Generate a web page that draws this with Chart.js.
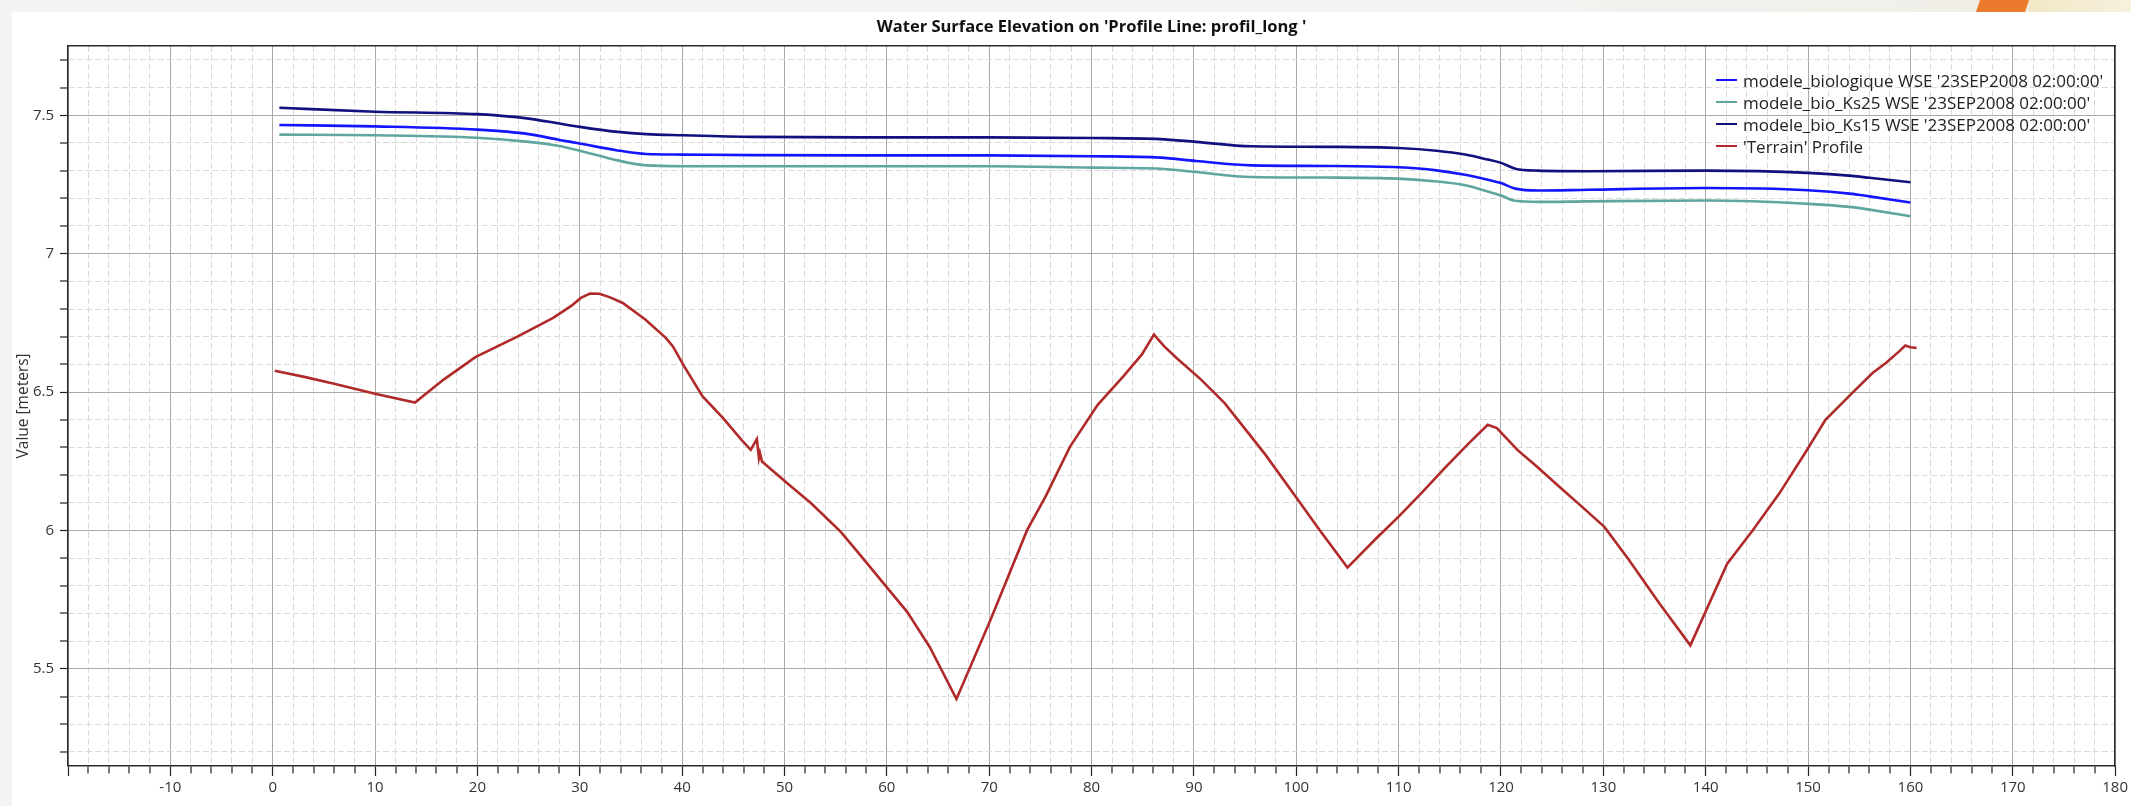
<!DOCTYPE html>
<html lang="fr">
<head>
<meta charset="utf-8">
<title>Water Surface Elevation - profil_long</title>
<script src="https://cdn.jsdelivr.net/npm/chart.js@4.4.1/dist/chart.umd.min.js"></script>
<style>
    html, body { margin: 0; padding: 0; }
    body {
        width: 2131px; height: 806px; position: relative; overflow: hidden;
        background: #fff; font-family: "Open Sans", "Noto Sans", sans-serif;
    }
    .topbar {
        position: absolute; left: 0; top: 0; width: 2131px; height: 12px;
        background: linear-gradient(to right, #f3f3f3 0%, #f3f3f3 65%, #f1efe9 90%, #efe8d4 100%);
    }
    .accent {
        position: absolute; left: 1976px; top: 0; width: 53px; height: 12px;
        background: #ec7a2c;
        clip-path: polygon(0 100%, 4px 0, 100% 0, calc(100% - 4px) 100%);
    }
    .accent-tail {
        position: absolute; left: 2029px; top: 0; width: 102px; height: 12px;
        background: linear-gradient(to right, #f2e7c6, #f6f0dd);
    }
    .sidebar { position: absolute; left: 0; top: 0; width: 12px; height: 806px; background: #f3f3f3; }
    #chart { position: absolute; left: 0; top: 0; }
    #legend { position: absolute; left: 1716px; top: 69px; color: #222; font-size: 17px; }
    #legend .row { height: 22px; display: flex; align-items: center; white-space: nowrap; }
    #legend .swatch { width: 21px; height: 2.5px; margin-right: 6px; }
</style>
</head>
<body>
<div class="sidebar"></div>
<div class="topbar"></div>
<div class="accent"></div>
<div class="accent-tail"></div>
<canvas id="chart" width="2131" height="806"></canvas>
<div id="legend"></div>
<script>
// station along the profile line (m) and elevations (m)
const wseStation = [0.65, 10, 20, 25, 28, 30, 33.7, 36.5, 40, 47, 60, 70, 80, 86.7, 90.2, 95.6,
    103, 110, 113.7, 116.5, 118.7, 120, 121.4, 123.6, 128.5, 140, 150, 154.3, 156, 160];
const wseBio = [7.465, 7.460, 7.448, 7.432, 7.411, 7.398, 7.373, 7.360, 7.358, 7.356, 7.355, 7.355, 7.352, 7.347, 7.335, 7.319,
    7.317, 7.312, 7.301, 7.285, 7.267, 7.255, 7.235, 7.228, 7.231, 7.237, 7.229, 7.216, 7.207, 7.185];
const wseKs25 = [7.430, 7.428, 7.419, 7.404, 7.389, 7.372, 7.337, 7.319, 7.316, 7.316, 7.316, 7.316, 7.311, 7.307, 7.295, 7.277,
    7.275, 7.271, 7.261, 7.247, 7.225, 7.210, 7.191, 7.187, 7.189, 7.192, 7.180, 7.168, 7.159, 7.135];
const wseKs15 = [7.527, 7.513, 7.504, 7.488, 7.470, 7.458, 7.440, 7.432, 7.428, 7.422, 7.420, 7.420, 7.418, 7.414, 7.404, 7.388,
    7.386, 7.382, 7.372, 7.358, 7.340, 7.328, 7.307, 7.300, 7.298, 7.300, 7.292, 7.281, 7.274, 7.258];

const terrainStation = [0.2, 3.2, 6.0, 10.0, 13.9, 16.7, 19.8, 23.9, 27.4, 29.2, 30.1, 31.0, 31.9, 32.9, 34.2, 36.4, 38.4, 39.1,
    40.2, 42.0, 44.0, 45.8, 46.7, 47.3, 47.5, 47.6, 47.8, 50.3, 52.6, 55.5, 57.0, 59.7, 62.0, 64.2, 66.8,
    70.1, 73.7, 75.5, 77.9, 80.6, 83.1, 84.9, 86.1, 86.5, 87.1, 88.3, 90.7, 93.0, 94.8, 97.0, 99.7, 102.4, 105.0,
    107.8, 110.0, 112.2, 114.5, 116.7, 118.7, 119.6, 121.6, 123.5, 125.7, 127.9, 130.1, 132.4, 135.5, 138.5,
    142.1, 144.6, 147.2, 149.8, 151.7, 154.3, 156.3, 157.6, 158.9, 159.5, 160.0, 160.6];
const terrainElev = [6.577, 6.554, 6.530, 6.494, 6.462, 6.545, 6.626, 6.700, 6.768, 6.812, 6.840, 6.856, 6.855, 6.843, 6.822, 6.762, 6.696, 6.665,
    6.593, 6.484, 6.406, 6.327, 6.291, 6.330, 6.262, 6.280, 6.249, 6.170, 6.098, 5.995, 5.929, 5.808, 5.705, 5.578, 5.391,
    5.675, 6.001, 6.122, 6.303, 6.454, 6.557, 6.635, 6.708, 6.690, 6.665, 6.623, 6.545, 6.460, 6.376, 6.273, 6.134, 5.995, 5.866,
    5.971, 6.050, 6.134, 6.225, 6.309, 6.382, 6.370, 6.291, 6.231, 6.158, 6.086, 6.013, 5.899, 5.735, 5.585,
    5.880, 6.001, 6.134, 6.285, 6.400, 6.496, 6.569, 6.605, 6.647, 6.668, 6.662, 6.659];

const seriesLabels = [
    "modele_biologique WSE '23SEP2008 02:00:00'",
    "modele_bio_Ks25 WSE '23SEP2008 02:00:00'",
    "modele_bio_Ks15 WSE '23SEP2008 02:00:00'",
    "'Terrain' Profile"
];

const X_MIN = -20, X_MAX = 180;
const Y_MIN = 5.149, Y_MAX = 7.751;

const FONT = '"Open Sans", "Noto Sans", sans-serif';
Chart.defaults.font.family = FONT;

const onStep = (v, step) => Math.abs(v / step - Math.round(v / step)) < 1e-6;
const toPoints = (xs, ys) => xs.map((x, i) => ({ x, y: ys[i] }));
const fmt = (v) => String(Math.round(v * 100) / 100);

const lineSet = (label, xs, ys, color, smooth) => ({
    label,
    data: toPoints(xs, ys),
    borderColor: color,
    backgroundColor: color,
    borderWidth: 2.6,
    pointRadius: 0,
    fill: false,
    cubicInterpolationMode: smooth ? 'monotone' : 'default',
    tension: 0,
    xAxisID: 'x',
    yAxisID: 'y'
});

// frame-only axes: no ticks, no labels, just a border line
const frameAxis = (axis, position, min, max) => ({
    type: 'linear', axis, position, min, max,
    ticks: { display: false },
    grid: { display: false, drawTicks: false },
    border: { display: true, color: '#2a2a2a', width: 1.5 }
});

// dashed minor grid, drawn by an axis of its own
const minorAxis = (axis, position, min, max, step, major) => ({
    type: 'linear', axis, position, min, max, weight: -1,
    ticks: { display: false, stepSize: step, autoSkip: false, includeBounds: false },
    grid: {
        drawTicks: false,
        lineWidth: 1,
        color: (c) => (c.tick && onStep(c.tick.value, major)) ? 'rgba(0,0,0,0)' : '#dadada'
    },
    border: { display: false, dash: [6, 3] }
});

const chart = new Chart(document.getElementById('chart'), {
    type: 'line',
    data: {
        datasets: [
            lineSet(seriesLabels[0], wseStation, wseBio, '#1414ff', true),
            lineSet(seriesLabels[1], wseStation, wseKs25, '#5fa5a0', true),
            lineSet(seriesLabels[2], wseStation, wseKs15, '#10107e', true),
            lineSet(seriesLabels[3], terrainStation, terrainElev, '#b02a2a', false)
        ]
    },
    options: {
        responsive: false,
        animation: false,
        devicePixelRatio: 1,
        layout: { padding: { left: 0, top: 0, right: 14, bottom: 0 } },
        plugins: {
            legend: { display: false },
            tooltip: { enabled: false },
            title: {
                display: true,
                fullSize: false,
                text: "Water Surface Elevation on 'Profile Line: profil_long '",
                color: '#111',
                font: { size: 16.5, weight: 'bold' },
                padding: { top: 17, bottom: 9 }
            }
        },
        scales: {
            x: {
                type: 'linear', position: 'bottom', min: X_MIN, max: X_MAX,
                afterFit: (s) => { s.height = 40; },
                ticks: {
                    stepSize: 2, autoSkip: false, maxRotation: 0, minRotation: 0,
                    padding: 3, color: '#333', font: { size: 15 },
                    callback: (v) => (onStep(v, 10) && v > X_MIN) ? fmt(v) : ''
                },
                grid: {
                    color: '#a9a9a9',
                    lineWidth: (c) => (c.tick && onStep(c.tick.value, 10)) ? 1 : 0,
                    tickLength: 10, tickWidth: 1.2, tickColor: '#222',
                    tickBorderDash: (c) => (c.tick && onStep(c.tick.value, 10)) ? [] : [7, 40]
                },
                border: { display: true, color: '#2a2a2a', width: 1.5 }
            },
            xMinor: minorAxis('x', 'bottom', X_MIN, X_MAX, 2, 10),
            xTop: frameAxis('x', 'top', X_MIN, X_MAX),
            y: {
                type: 'linear', position: 'left', min: Y_MIN, max: Y_MAX,
                afterFit: (s) => { s.width = 68; },
                title: {
                    display: true, text: 'Value [meters]', color: '#333',
                    font: { size: 15.5 }, padding: { top: 14, bottom: 0 }
                },
                ticks: {
                    stepSize: 0.1, autoSkip: false, includeBounds: false,
                    padding: 6, color: '#333', font: { size: 15 },
                    callback: (v) => onStep(v, 0.5) ? fmt(v) : ''
                },
                grid: {
                    color: '#a9a9a9',
                    lineWidth: (c) => (c.tick && onStep(c.tick.value, 0.5)) ? 1 : 0,
                    tickLength: 8, tickWidth: 1.2, tickColor: '#222'
                },
                border: { display: true, color: '#2a2a2a', width: 1.5 }
            },
            yMinor: minorAxis('y', 'left', Y_MIN, Y_MAX, 0.1, 0.5),
            yRight: frameAxis('y', 'right', Y_MIN, Y_MAX)
        }
    }
});

// legend placed inside the plot area, top right
const legendEl = document.getElementById('legend');
chart.data.datasets.forEach((ds) => {
    const row = document.createElement('div');
    row.className = 'row';
    const swatch = document.createElement('span');
    swatch.className = 'swatch';
    swatch.style.background = ds.borderColor;
    const text = document.createElement('span');
    text.textContent = ds.label;
    row.appendChild(swatch);
    row.appendChild(text);
    legendEl.appendChild(row);
});
</script>
</body>
</html>
